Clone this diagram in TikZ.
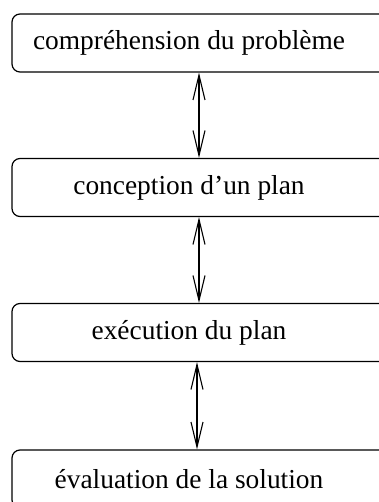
\documentclass[tikz,border=0pt]{standalone}
\usepackage{fontspec}
\setmainfont{Liberation Serif}
\usetikzlibrary{arrows.meta}
\tikzset{
  stage/.style={draw, rounded corners=8pt, line width=1.2pt, minimum width=382pt, minimum height=58pt, inner sep=0pt},
  dblarrow/.style={line width=1.1pt, {Straight Barb[length=25pt,width=12pt]}-{Straight Barb[length=25pt,width=12pt]}}
}

\begin{document}
\begin{tikzpicture}[x=1pt, y=-1pt, every label/.style={font=\fontsize{27.4}{32}\selectfont, xshift=-14pt}]
    \useasboundingbox (0,0) rectangle (379,502);
    % Stages
    \node[stage, label=center:{compréhension du problème}] (B1) at (203,43) {};
    \node[stage, label=center:{conception d’un plan}] (B2) at (203,187.5) {};
    \node[stage, label=center:{exécution du plan}] (B3) at (203,332.5) {};
    \node[stage, label=center:{évaluation de la solution}] (B4) at (203,479) {};

    % Arrows
    \draw[dblarrow] ([xshift=-4pt]B1.south) -- ([xshift=-4pt]B2.north);
    \draw[dblarrow] ([xshift=-4pt]B2.south) -- ([xshift=-4pt]B3.north);
    \draw[dblarrow] ([xshift=-6pt]B3.south) -- ([xshift=-6pt]B4.north);
\end{tikzpicture}
\end{document}
